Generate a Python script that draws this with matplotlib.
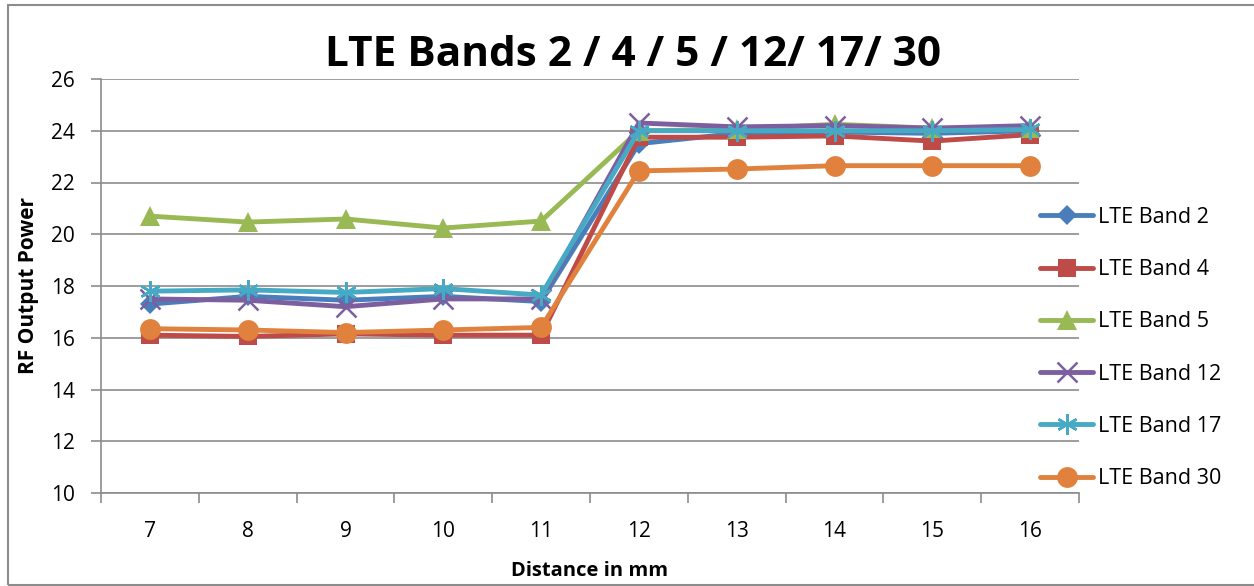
import matplotlib
matplotlib.use("Agg")
import matplotlib.pyplot as plt
from matplotlib.patches import Rectangle

plt.rcParams['font.family'] = ['Open Sans', 'DejaVu Sans']

distance = [7, 8, 9, 10, 11, 12, 13, 14, 15, 16]
band2 = [17.3, 17.6, 17.45, 17.6, 17.4, 23.5, 23.9, 23.95, 23.9, 24.0]
band4 = [16.1, 16.05, 16.15, 16.1, 16.1, 23.75, 23.75, 23.8, 23.6, 23.85]
band5 = [20.7, 20.47, 20.59, 20.24, 20.51, 24.0, 24.05, 24.25, 24.1, 24.1]
band12 = [17.5, 17.45, 17.2, 17.5, 17.5, 24.3, 24.15, 24.2, 24.1, 24.2]
band17 = [17.8, 17.85, 17.75, 17.9, 17.65, 24.0, 24.0, 24.0, 24.0, 24.05]
band30 = [16.35, 16.3, 16.2, 16.3, 16.4, 22.45, 22.52, 22.65, 22.65, 22.65]

labels = ["LTE Band 2", "LTE Band 4", "LTE Band 5", "LTE Band 12", "LTE Band 17", "LTE Band 30"]
series = [band2, band4, band5, band12, band17, band30]
colors = ["#4A7EBB", "#BE4B48", "#98B954", "#7D5FA0", "#46AAC5", "#E0823D"]
markers = ["D", "s", "^", "x", (6, 2, 0), "o"]
msizes = [10, 13, 14, 14, 15, 15]

fig = plt.figure(figsize=(12.54, 5.86), dpi=100)
fig.patches.append(Rectangle((8/1254, 1 - 585/586), 1.0, 580/586, transform=fig.transFigure,
                             fill=False, edgecolor="#8C8C8C", linewidth=1.5))

ax = fig.add_axes([101/1254, 1 - 493/586, (1079-101)/1254, (493-79)/586])

for y, lab, c, m, ms in zip(series, labels, colors, markers, msizes):
    if m in ("x",) or isinstance(m, tuple):
        ax.plot(distance, y, color=c, linewidth=3.5, marker=m, markersize=ms,
                markeredgewidth=1.8, label=lab, solid_capstyle='round')
    else:
        ax.plot(distance, y, color=c, linewidth=3.5, marker=m, markersize=ms,
                markeredgewidth=0, label=lab, solid_capstyle='round')

ax.set_xlim(6.5, 16.5)
ax.set_ylim(10, 26)
ax.set_yticks(range(10, 27, 2))
ax.set_xticks(distance)
ax.set_xticks([x + 0.5 for x in [6] + distance], minor=True)
ax.tick_params(axis='x', which='major', length=0, pad=20, labelsize=15)
ax.tick_params(axis='x', which='minor', length=7, width=1.2, color="#8C8C8C")
ax.tick_params(axis='y', which='major', length=7, width=1.2, color="#8C8C8C", pad=12, labelsize=15)

ax.grid(axis='y', color="#8C8C8C", linewidth=1.2)
ax.set_axisbelow(True)
for s in ["top", "right"]:
    ax.spines[s].set_visible(False)
for s in ["left", "bottom"]:
    ax.spines[s].set_color("#8C8C8C")
    ax.spines[s].set_linewidth(1.2)

ax.set_xlabel("Distance in mm", fontsize=14.5, fontweight='bold', labelpad=14)
ax.set_ylabel("RF Output Power", fontsize=15, fontweight='bold', labelpad=8)

fig.text(633/1254, 1 - 55/586, "LTE Bands 2 / 4 / 5 / 12/ 17/ 30", ha='center', va='center',
         fontsize=30.5, fontweight='bold')

leg = ax.legend(loc='center left', bbox_to_anchor=(1031/1254, 1 - 348/586),
                bbox_transform=fig.transFigure, frameon=False, fontsize=15.5,
                labelspacing=1.45, handlelength=2.5, handletextpad=0.2, borderaxespad=0)

fig.savefig("out.png", dpi=100)
